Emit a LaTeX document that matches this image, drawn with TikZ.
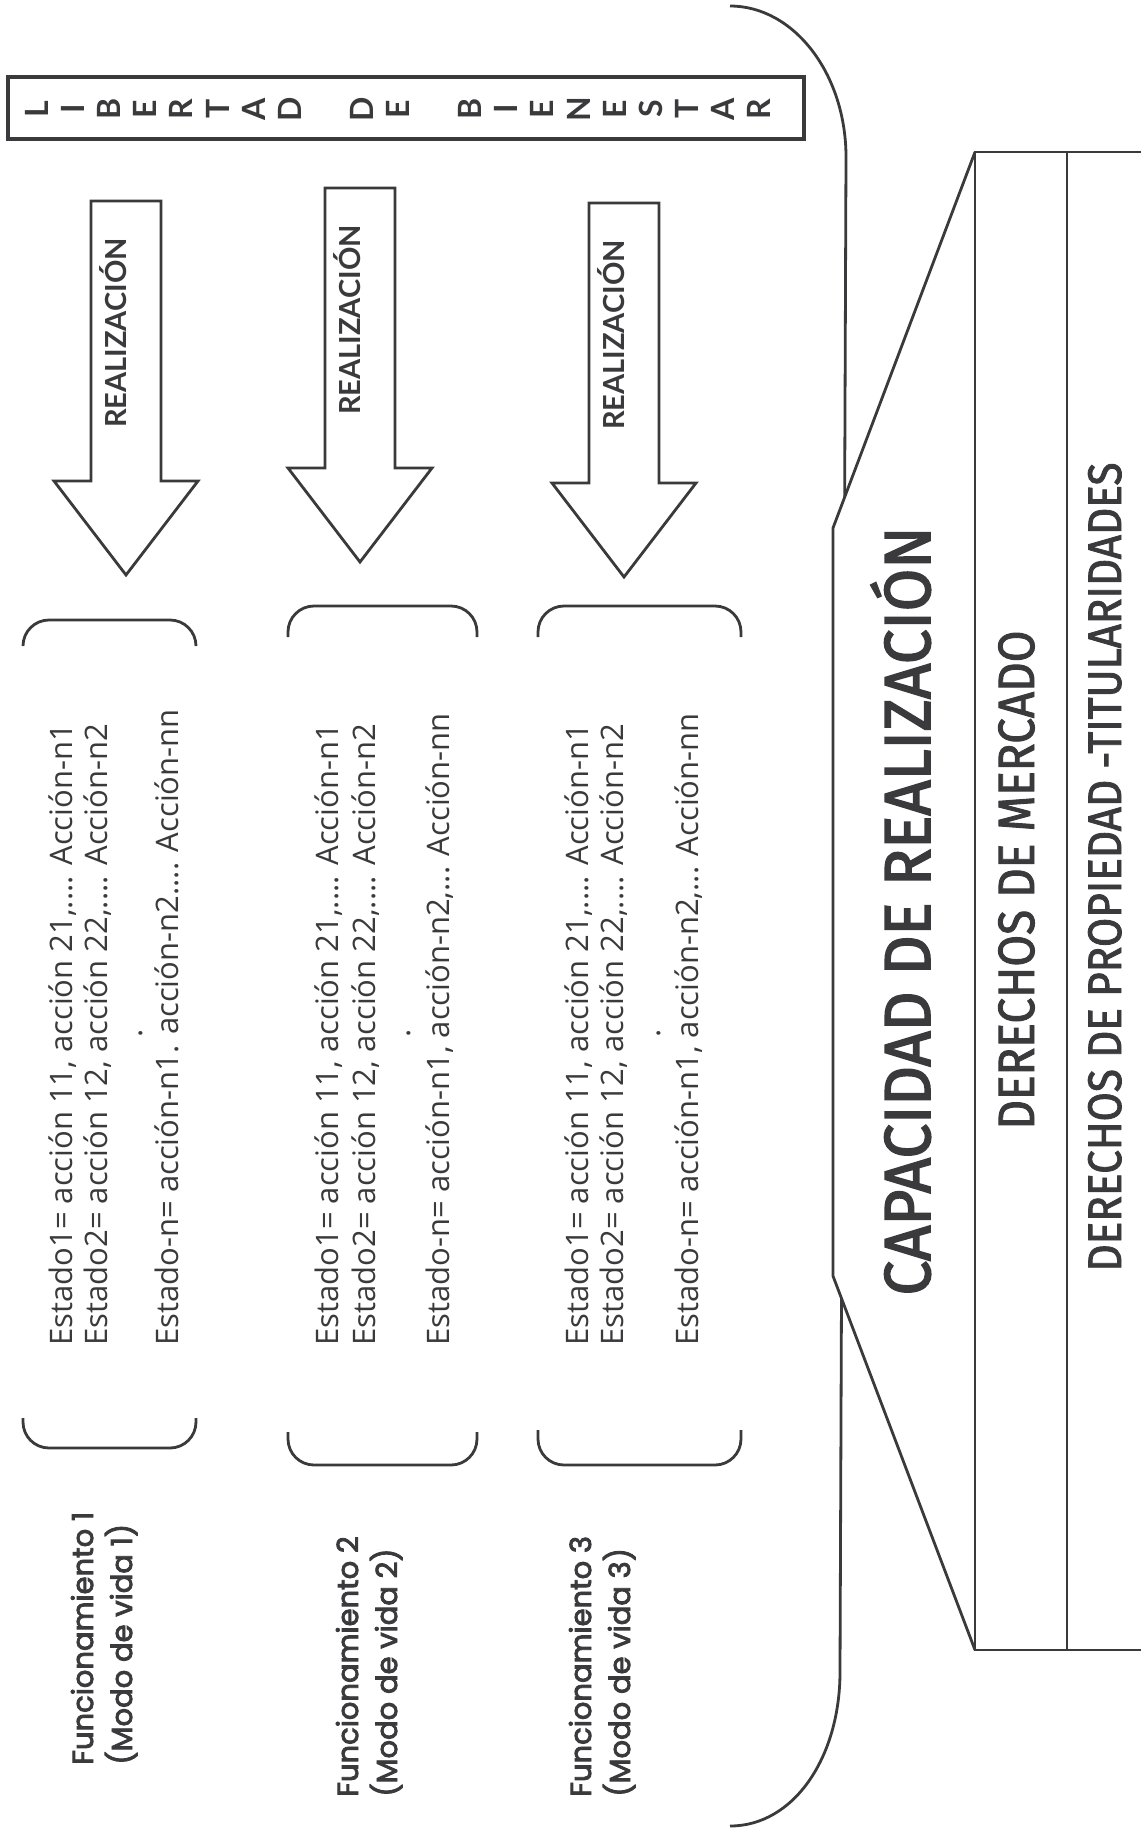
\documentclass[tikz,border=0pt]{standalone}
\usepackage{fontspec}
\setmainfont{Open Sans}
\newfontfamily\latofont{Lato}
\newfontfamily\popfont{Poppins}[FakeBold=3]
\newfontfamily\firafont{Fira Sans}[FakeStretch=0.95, FakeBold=2.5]
\newfontfamily\firamed{Fira Sans}[FakeStretch=0.9, FakeBold=1.8]
\usetikzlibrary{positioning}
\definecolor{ink}{RGB}{58,58,60}

\begin{document}
\begin{tikzpicture}[x=0.5pt, y=-0.5pt, color=ink, line width=1.4pt,
  letra/.style={rotate=90, inner sep=0pt, font=\latofont\bfseries\fontsize{16}{16}\selectfont},
  realiza/.style={rotate=90, inner sep=0pt, anchor=base, font=\latofont\bfseries\fontsize{14.5}{14.5}\selectfont},
  estado/.style={rotate=90, inner sep=0pt, anchor=base west, font=\fontsize{15.5}{15.5}\selectfont},
  funcion/.style={rotate=90, inner sep=0pt, anchor=base west, font=\popfont\fontsize{14.5}{14.5}\selectfont},
  titulo/.style={rotate=90, inner sep=0pt, anchor=base, font=\firafont\fontsize{32.5}{32.5}\selectfont},
  derecho/.style={rotate=90, inner sep=0pt, anchor=base, font=\firamed\fontsize{25.5}{25.5}\selectfont},
  corchete/.style={rounded corners=13pt}]
\useasboundingbox (0,0) rectangle (1141,1832);

% big bracket, partly hidden by the capacidad block
\draw (730,6) .. controls (794,6) and (846,74) .. (846,157) -- (840,1672)
  .. controls (840,1757) and (794,1826) .. (730,1826);

% libertad de bienestar
\draw[line width=1.6pt] (8,77) rectangle (804,139);
\foreach \ch [count=\i from 0] in {L,I,B,E,R,T,A,D,{},D,E,{},B,I,E,N,E,S,T,A,R}
  \node[letra] (l\i) at ({37+36.1*\i},109) {\ch};

% realizacion arrows
\foreach \n/\tx/\ty in {1/126/575, 2/360/562, 3/624/577} {
  \coordinate (tip\n) at (\tx,\ty);
  \draw (tip\n) -- ++(-72,-94) -- ++(37,0) -- ++(0,-280) -- ++(70,0)
    -- ++(0,280) -- ++(37,0) -- cycle;
  \node[realiza] (real\n) at ([yshift=121pt]tip\n) {REALIZACIÓN};
}

% brackets round the states
\draw[corchete] (23,646) -- (23,620) -- (196,620) -- (196,646);
\draw[corchete] (23,1418) -- (23,1448) -- (196,1448) -- (196,1418);
\draw[corchete] (288,637) -- (288,606) -- (477,606) -- (477,637);
\draw[corchete] (288,1432) -- (288,1465) -- (477,1465) -- (477,1432);
\draw[corchete] (538,637) -- (538,606) -- (741,606) -- (741,637);
\draw[corchete] (538,1430) -- (538,1465) -- (741,1465) -- (741,1430);

% states
\node[estado] (e1a) at (72,1347) {Estado1= acción 11, acción 21,.... Acción-n1};
\node[estado] (e1b) at (107,1347) {Estado2= acción 12, acción 22,.... Acción-n2};
\node[estado, anchor=base] (e1d) at (142,1033) {.};
\node[estado] (e1c) at (178,1347) {Estado-n= acción-n1. acción-n2.... Acción-nn};

\node[estado] (e2a) at (338,1347) {Estado1= acción 11, acción 21,.... Acción-n1};
\node[estado] (e2b) at (375,1347) {Estado2= acción 12, acción 22,.... Acción-n2};
\node[estado, anchor=base] (e2d) at (410,1033) {.};
\node[estado] (e2c) at (449,1347) {Estado-n= acción-n1, acción-n2,... Acción-nn};

\node[estado] (e3a) at (588,1347) {Estado1= acción 11, acción 21,.... Acción-n1};
\node[estado] (e3b) at (623,1347) {Estado2= acción 12, acción 22,.... Acción-n2};
\node[estado, anchor=base] (e3d) at (660,1033) {.};
\node[estado] (e3c) at (698,1347) {Estado-n= acción-n1, acción-n2,... Acción-nn};

% funcionamientos
\node[funcion] (f1) at (93,1766) {Funcionamiento 1};
\node[funcion] (m1) at (132,1766) {(Modo de vida 1)};
\node[funcion] (f2) at (358,1798) {Funcionamiento 2};
\node[funcion] (m2) at (397,1798) {(Modo de vida 2)};
\node[funcion] (f3) at (591,1798) {Funcionamiento 3};
\node[funcion] (m3) at (630,1798) {(Modo de vida 3)};

% capacidad block and rights table
\fill[white] (975,152) -- (833,528) -- (833,1276) -- (975,1650) -- cycle;
\draw (975,152) -- (833,528) -- (833,1276) -- (975,1650);
\draw (1141,152) -- (975,152) -- (975,1650) -- (1141,1650);
\draw (1067,152) -- (1067,1650);

\node[titulo] (cap) at (930,911) {CAPACIDAD DE REALIZACIÓN};
\node[derecho] (mer) at (1034,880) {DERECHOS DE MERCADO};
\node[derecho, font=\firamed\fontsize{23.5}{23.5}\selectfont] (pro) at (1121,867) {DERECHOS DE PROPIEDAD -TITULARIDADES};

\end{tikzpicture}
\end{document}
